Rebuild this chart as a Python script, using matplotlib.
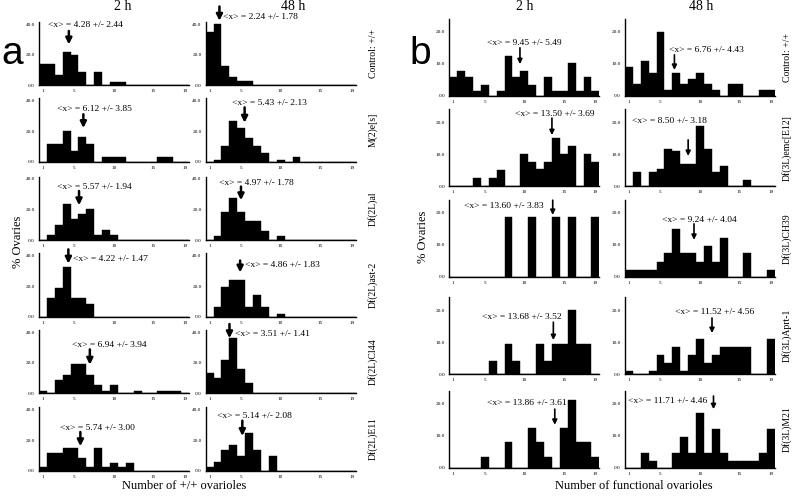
import numpy as np
import matplotlib
matplotlib.use("Agg")
import matplotlib.pyplot as plt

plt.rcParams['font.family'] = ['Liberation Serif', 'DejaVu Serif']

# ovariole counts 1..19 on every x axis
bins = np.arange(1, 20)
xtick_vals = [1, 5, 10, 15, 19]

# ---- panel a: number of +/+ ovarioles (% ovaries) ----
a_genotypes = ["Control: +/+", "M(2)e[s]", "Df(2L)al", "Df(2L)ast-2", "Df(2L)Cl44", "Df(2L)E11"]

a_2h = [
    [14, 14, 6.5, 22, 19.5, 9, 0, 9, 0, 2, 2, 0, 0, 0, 0, 0, 0, 0, 0],
    [0, 11.4, 11.4, 20.2, 7.3, 16, 11.6, 0, 3.1, 3.1, 3.1, 0, 0, 0, 0, 3, 3, 0, 0],
    [0, 3.1, 10, 23.6, 13.6, 17.2, 20, 3.1, 6.5, 3.1, 0, 0, 0, 0, 0, 0, 0, 0, 0],
    [0, 11.9, 18.8, 32.4, 11.9, 11.9, 8.6, 0, 0, 0, 0, 0, 0, 0, 0, 0, 0, 0, 0],
    [1.7, 0, 8.6, 12.1, 19.3, 19.3, 12.1, 5.5, 1.7, 5.5, 0, 0, 1.7, 0, 0, 1.7, 1.7, 1.7, 0],
    [2.2, 11.4, 11.4, 14.7, 14.7, 8.6, 2.2, 14.7, 2.2, 5.1, 2.2, 5.1, 0, 0, 0, 0, 0, 0, 0],
]
a_48h = [
    [34.7, 40, 12.7, 5.6, 3.1, 3.1, 0, 0, 0, 0, 0, 0, 0, 0, 0, 0, 0, 0, 0],
    [0, 1.1, 10.3, 26.8, 22, 15.4, 10.3, 5.5, 0, 1.1, 0, 3.3, 0, 0, 0, 0, 0, 0, 0],
    [0, 2.7, 18, 27.4, 18, 12.1, 12.1, 5.9, 0, 2.7, 0, 0, 0, 0, 0, 0, 0, 0, 0],
    [0, 6.6, 19.1, 24.2, 24.2, 6.6, 14.3, 6.6, 0, 1.8, 0, 0, 0, 0, 0, 0, 0, 0, 0],
    [13.1, 9.8, 21.7, 36.4, 15.7, 6.7, 0, 0, 0, 0, 0, 0, 0, 0, 0, 0, 0, 0, 0],
    [2.2, 5.9, 13.6, 16.9, 9.7, 24.6, 13.6, 0, 9.7, 0, 0, 0, 0, 0, 0, 0, 0, 0, 0],
]
a_2h_stats = [(4.28, 2.44), (6.12, 3.85), (5.57, 1.94), (4.22, 1.47), (6.94, 3.94), (5.74, 3.00)]
a_48h_stats = [(2.24, 1.78), (5.43, 2.13), (4.97, 1.78), (4.86, 1.83), (3.51, 1.41), (5.14, 2.08)]

# ---- panel b: number of functional ovarioles (% ovaries) ----
b_genotypes = ["Control: +/+", "Df(3L)emc[E12]", "Df(3L)CH39", "Df(3L)Aprt-1", "Df(3L)M21"]

b_2h = [
    [5.7, 7.8, 5.7, 1.4, 3.4, 0, 1.4, 12.3, 5.7, 7.8, 3.4, 0, 5.7, 1.4, 1.4, 10.1, 1.4, 5.7, 1.4],
    [0, 0, 0, 2.6, 0, 2.6, 5.1, 0, 0, 10, 7.4, 5.2, 7.4, 15, 10, 12.6, 0, 10, 7.4],
    [0, 0, 0, 0, 0, 0, 0, 18.7, 0, 0, 18.7, 0, 0, 18.7, 0, 18.7, 0, 0, 18.7],
    [0, 0, 0, 0, 0, 4.2, 0, 9.3, 4.2, 0, 0, 9.3, 4.2, 9.3, 9.3, 19.9, 9.3, 9.3, 0],
    [0, 0, 0, 0, 3.5, 0, 0, 7.9, 0, 0, 12.3, 7.9, 3.5, 0, 12.3, 21.2, 7.9, 7.9, 3.5],
]
b_48h = [
    [9, 3.6, 10.8, 7, 19.8, 1.8, 7, 3.6, 5.3, 7, 3.6, 1.8, 0, 3.6, 3.6, 0, 0, 1.8, 1.8],
    [0, 4.5, 0, 4.5, 5.3, 11.6, 10.8, 7, 7, 18.8, 11.6, 4.5, 6.2, 0, 0, 1.9, 0, 0, 0],
    [2.2, 2.2, 2.2, 2.2, 4.8, 7.4, 15, 7.4, 7.4, 4.8, 9.8, 4.8, 12.2, 0, 0, 7.4, 0, 0, 2.2],
    [1.05, 0, 0, 1.05, 6, 3.5, 8.4, 1.05, 6, 11, 3.5, 6, 8.4, 8.4, 8.4, 8.4, 0, 0, 11],
    [0, 0, 4.6, 2, 0, 0, 4.6, 9.6, 4.6, 17, 4.6, 12, 4.6, 2, 2, 2, 2, 4.6, 12],
]
b_2h_stats = [(9.45, 5.49), (13.50, 3.69), (13.60, 3.83), (13.68, 3.52), (13.86, 3.61)]
b_48h_stats = [(6.76, 4.43), (8.50, 3.18), (9.24, 4.04), (11.52, 4.56), (11.71, 4.46)]

# label placement per subplot: text x, text y, arrow top, arrow bottom (data units)
a_2h_ann = [(1.64, 39.3, 35.5, 26.7), (2.8, 34.7, 31, 22), (2.8, 34.9, 32, 22.7),
            (4.8, 38, 44, 34.7), (4.7, 31.3, 28.7, 18.7), (3.2, 28.2, 25.3, 16)]
a_48h_ann = [(2.7, 44.5, 51.5, 42.2), (3.8, 38.2, 35.5, 25.5), (2.2, 37.5, 34.9, 26),
             (5.5, 34, 36.7, 28.9), (4.2, 38.7, 45.3, 36), (1.9, 36, 32.7, 22.7)]
b_2h_ann = [(5.3, 16.3, 14.9, 9.8), (8.8, 22.5, 21.2, 15.9), (2.3, 22.2, 24, 19.4),
            (4.7, 17.9, 16.2, 10.6), (5.3, 20.3, 18.3, 13.4)]
b_48h_ann = [(6.1, 14.2, 12.7, 8), (1.4, 20.3, 14.4, 9.4), (5.2, 17.8, 16.6, 11.6),
             (6.8, 19.3, 17.5, 12.8), (0.9, 20.8, 22.4, 18.3)]

W, H = 800, 499
fig = plt.figure(figsize=(W / 100, H / 100), dpi=100)


def px_axes(left, baseline, width, height):
    return fig.add_axes([left / W, (H - baseline) / H, width / W, height / H])


def draw_hist(ax, values, ymax, yticks, stats, ann, arrow_lw, head):
    ax.bar(bins, values, width=1.0, color='black', edgecolor='black', linewidth=0.3)
    ax.set_xlim(0.5, 19.5)
    ax.set_ylim(0, ymax)
    ax.set_xticks(xtick_vals)
    ax.set_yticks(yticks)
    ax.yaxis.set_major_formatter('{x:.1f}')
    ax.tick_params(length=0, labelsize=3.8, pad=3)
    for s in ['top', 'right']:
        ax.spines[s].set_visible(False)
    for s in ['left', 'bottom']:
        ax.spines[s].set_linewidth(1.0)
    mean, sd = stats
    tx, ty, top, bottom = ann
    ax.text(tx, ty, f"<x> = {mean:.2f} +/- {sd:.2f}", fontsize=6.8, ha='left', va='center', clip_on=False)
    ax.annotate('', xy=(mean, bottom), xytext=(mean, top), annotation_clip=False,
                arrowprops=dict(arrowstyle='-|>', lw=arrow_lw, color='black',
                                mutation_scale=head, shrinkA=0, shrinkB=0))


# panel a
a_lefts = [39, 205.7]
a_bases = [85.3, 161.7, 240, 316.7, 393.3, 470.7]
a_h = 63.5
for r, base in enumerate(a_bases):
    ax = px_axes(a_lefts[0], base, 150, a_h)
    draw_hist(ax, a_2h[r], 41.5, [0, 20, 40], a_2h_stats[r], a_2h_ann[r], 1.8, 9)
    ax = px_axes(a_lefts[1], base, 150, a_h)
    draw_hist(ax, a_48h[r], 41.5, [0, 20, 40], a_48h_stats[r], a_48h_ann[r], 1.8, 9)
    fig.text(373 / W, 1 - (base - a_h / 2) / H, a_genotypes[r], rotation=90,
             ha='center', va='center', fontsize=7)

# panel b
b_lefts = [449.3, 625]
b_bases = [95.5, 186, 277, 374, 467.7]
b_h = 76.8
for r, base in enumerate(b_bases):
    ax = px_axes(b_lefts[0], base, 150, b_h)
    draw_hist(ax, b_2h[r], 24, [0, 10, 20], b_2h_stats[r], b_2h_ann[r], 1.2, 7)
    ax = px_axes(b_lefts[1], base, 150, b_h)
    draw_hist(ax, b_48h[r], 24, [0, 10, 20], b_48h_stats[r], b_48h_ann[r], 1.2, 7)
    fig.text(787 / W, 1 - (base - b_h / 2) / H, b_genotypes[r], rotation=90,
             ha='center', va='center', fontsize=7)

# column headers, panel letters, axis titles
for x, label in [(123, "2 h"), (293, "48 h"), (525, "2 h"), (701, "48 h")]:
    fig.text(x / W, 1 - 7 / H, label, ha='center', va='center', fontsize=10)
fig.text(12 / W, 1 - 54 / H, "a", ha='center', va='center', fontsize=28, family='Liberation Sans')
fig.text(420 / W, 1 - 54 / H, "b", ha='center', va='center', fontsize=28, family='Liberation Sans')
fig.text(18 / W, 1 - 242 / H, "% Ovaries", rotation=90, ha='center', va='center', fontsize=9)
fig.text(423 / W, 1 - 237 / H, "% Ovaries", rotation=90, ha='center', va='center', fontsize=9)
fig.text(184 / W, 1 - 486 / H, "Number of +/+ ovarioles", ha='center', va='center', fontsize=9)
fig.text(634 / W, 1 - 486 / H, "Number of functional ovarioles", ha='center', va='center', fontsize=9)

fig.savefig("out.png", dpi=100, facecolor='white')
